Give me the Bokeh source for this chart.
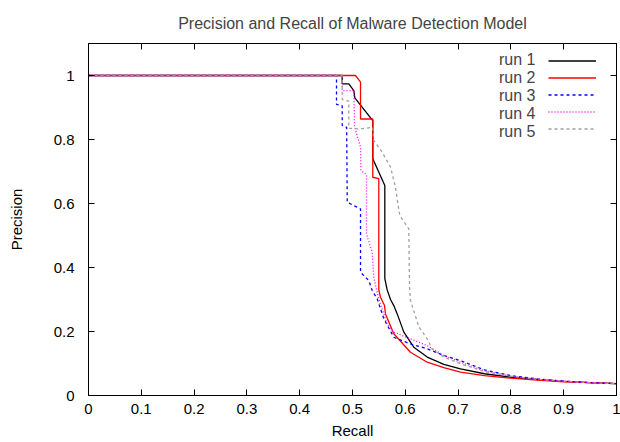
from bokeh.plotting import figure
from bokeh.models import Range1d, FixedTicker, LinearAxis, Legend, LegendItem
from bokeh.embed import file_html
from bokeh.resources import INLINE

# ---- data ----
run1_recall = [0, 0.4805, 0.4805, 0.493, 0.5025, 0.5044, 0.5384, 0.5384, 0.5612, 0.5612,
               0.5657, 0.572, 0.5782, 0.5847, 0.5972, 0.6161, 0.6415, 0.6729, 0.7045,
               0.75, 0.8, 0.85, 0.9, 0.95, 1.0]
run1_precision = [1.0, 1.0, 0.974, 0.974, 0.953, 0.930, 0.859, 0.74, 0.656, 0.365,
                  0.33, 0.30, 0.281, 0.255, 0.198, 0.151, 0.12, 0.097, 0.083,
                  0.068, 0.057, 0.050, 0.044, 0.040, 0.037]

run2_recall = [0, 0.5057, 0.5152, 0.5152, 0.5384, 0.5384, 0.5498, 0.5498, 0.553, 0.5606,
               0.5625, 0.5782, 0.6098, 0.6415, 0.6729, 0.7045, 0.75, 0.8, 0.85, 0.9, 0.95, 1.0]
run2_precision = [1.0, 1.0, 0.979, 0.864, 0.864, 0.682, 0.678, 0.33, 0.307, 0.281,
                  0.255, 0.193, 0.135, 0.104, 0.087, 0.073, 0.062, 0.054, 0.048, 0.043, 0.040, 0.037]

run3_recall = [0, 0.4697, 0.4697, 0.4805, 0.4805, 0.489, 0.490, 0.5152, 0.5152, 0.531,
               0.5373, 0.5468, 0.5593, 0.5782, 0.6098, 0.6415, 0.6729, 0.7045,
               0.75, 0.8, 0.85, 0.9, 0.95, 1.0]
run3_precision = [1.0, 1.0, 0.91, 0.905, 0.844, 0.838, 0.604, 0.583, 0.385, 0.359,
                  0.328, 0.302, 0.24, 0.182, 0.161, 0.146, 0.125, 0.109,
                  0.080, 0.062, 0.052, 0.045, 0.040, 0.037]

run4_recall = [0, 0.4805, 0.4805, 0.5025, 0.504, 0.5152, 0.516, 0.5265, 0.5265, 0.5373,
               0.5403, 0.548, 0.553, 0.5657, 0.5782, 0.6098, 0.6415, 0.6729, 0.7045,
               0.75, 0.8, 0.85, 0.9, 0.95, 1.0]
run4_precision = [1.0, 1.0, 0.953, 0.953, 0.84, 0.776, 0.703, 0.690, 0.505, 0.448,
                  0.37, 0.3125, 0.285, 0.224, 0.198, 0.177, 0.156, 0.125, 0.104,
                  0.077, 0.060, 0.051, 0.045, 0.040, 0.037]

run5_recall = [0, 0.4805, 0.4805, 0.493, 0.493, 0.5152, 0.5384, 0.5403, 0.5563, 0.572,
               0.5814, 0.5859, 0.5896, 0.6066, 0.608, 0.6098, 0.6256, 0.6415, 0.651,
               0.6729, 0.7045, 0.75, 0.8, 0.85, 0.9, 0.95, 1.0]
run5_precision = [1.0, 1.0, 0.925, 0.92, 0.835, 0.833, 0.838, 0.797, 0.760, 0.714,
                  0.651, 0.600, 0.5625, 0.521, 0.34, 0.297, 0.215, 0.177, 0.145,
                  0.12, 0.099, 0.075, 0.060, 0.051, 0.045, 0.040, 0.037]

series_names = ["run 1", "run 2", "run 3", "run 4", "run 5"]
x_ticks = [0, 0.1, 0.2, 0.3, 0.4, 0.5, 0.6, 0.7, 0.8, 0.9, 1.0]
x_tick_labels = ["0", "0.1", "0.2", "0.3", "0.4", "0.5", "0.6", "0.7", "0.8", "0.9", "1"]
y_ticks = [0, 0.2, 0.4, 0.6, 0.8, 1.0]
y_tick_labels = ["0", "0.2", "0.4", "0.6", "0.8", "1"]

FONT = "Liberation Sans"
FS = "15px"

p = figure(width=620, height=442, output_backend="svg", toolbar_location=None,
           x_range=Range1d(0, 1), y_range=Range1d(0, 1.1),
           min_border_left=88, min_border_right=4, min_border_top=43, min_border_bottom=47,
           title="Precision and Recall of Malware Detection Model")
p.title.align = "center"
p.title.text_font = FONT
p.title.text_font_size = "16px"
p.title.text_font_style = "normal"
p.title.standoff = 23
p.grid.visible = False
p.outline_line_color = "black"
p.outline_line_width = 1
p.background_fill_color = "white"
p.border_fill_color = "white"

def style_axis(ax, ticks, labels, show_labels=True):
    ax.ticker = FixedTicker(ticks=ticks)
    ax.minor_tick_line_color = None
    ax.major_tick_in = 6
    ax.major_tick_out = 0
    ax.major_tick_line_color = "black"
    ax.axis_line_color = "black"
    if show_labels:
        ax.major_label_overrides = {t: l for t, l in zip(ticks, labels)}
        ax.major_label_text_font = FONT
        ax.major_label_text_font_size = FS
        ax.major_label_text_color = "black"
    else:
        ax.major_label_text_font_size = "1px"
        ax.major_label_text_color = None
        ax.major_label_standoff = 0
    ax.axis_label_text_font = FONT
    ax.axis_label_text_font_size = FS
    ax.axis_label_text_font_style = "normal"
    ax.axis_label_text_color = "black"

style_axis(p.xaxis[0], x_ticks, x_tick_labels)
p.xaxis[0].axis_label = "Recall"
p.xaxis[0].major_label_standoff = 8
p.xaxis[0].axis_label_standoff = 5
style_axis(p.yaxis[0], y_ticks, y_tick_labels)
p.yaxis[0].axis_label = "Precision"
p.yaxis[0].major_label_standoff = 14
p.yaxis[0].axis_label_standoff = 26

top_ax = LinearAxis()
style_axis(top_ax, x_ticks, x_tick_labels, show_labels=False)
p.add_layout(top_ax, "above")
right_ax = LinearAxis()
style_axis(right_ax, y_ticks, y_tick_labels, show_labels=False)
p.add_layout(right_ax, "right")

recalls = [run1_recall, run2_recall, run3_recall, run4_recall, run5_recall]
precisions = [run1_precision, run2_precision, run3_precision, run4_precision, run5_precision]
colors = ["#000000", "#ff0000", "#0000ff", "#ff00ff", "#a0a0a0"]
dashes = ["solid", "solid", "3 3", "1 2", "3 3"]

renderers = []
dummies = []
for rx, py, c, d in zip(recalls, precisions, colors, dashes):
    r = p.line(rx, py, line_color=c, line_width=1.3, line_dash=d)
    renderers.append(r)
    dm = p.line([], [], line_alpha=0)
    dummies.append(dm)

text_legend = Legend(items=[LegendItem(label=n, renderers=[dm]) for n, dm in zip(series_names, dummies)],
                     location=(411, 254), glyph_width=0, glyph_height=17, label_height=17,
                     label_standoff=0, spacing=0, padding=0, margin=0,
                     border_line_color=None, background_fill_alpha=0,
                     label_text_font=FONT, label_text_font_size="16px", label_text_line_height=1.0)
sample_legend = Legend(items=[LegendItem(label=" ", renderers=[r]) for r in renderers],
                       location=(460, 258), glyph_width=48, glyph_height=17, label_height=17,
                       label_width=0, label_standoff=0, spacing=0, padding=0, margin=0,
                       border_line_color=None, background_fill_alpha=0,
                       label_text_font=FONT, label_text_font_size="16px", label_text_line_height=1.0,
                       label_text_color=None)
p.add_layout(text_legend)
p.add_layout(sample_legend)

open("out.html", "w").write(file_html(p, INLINE))
